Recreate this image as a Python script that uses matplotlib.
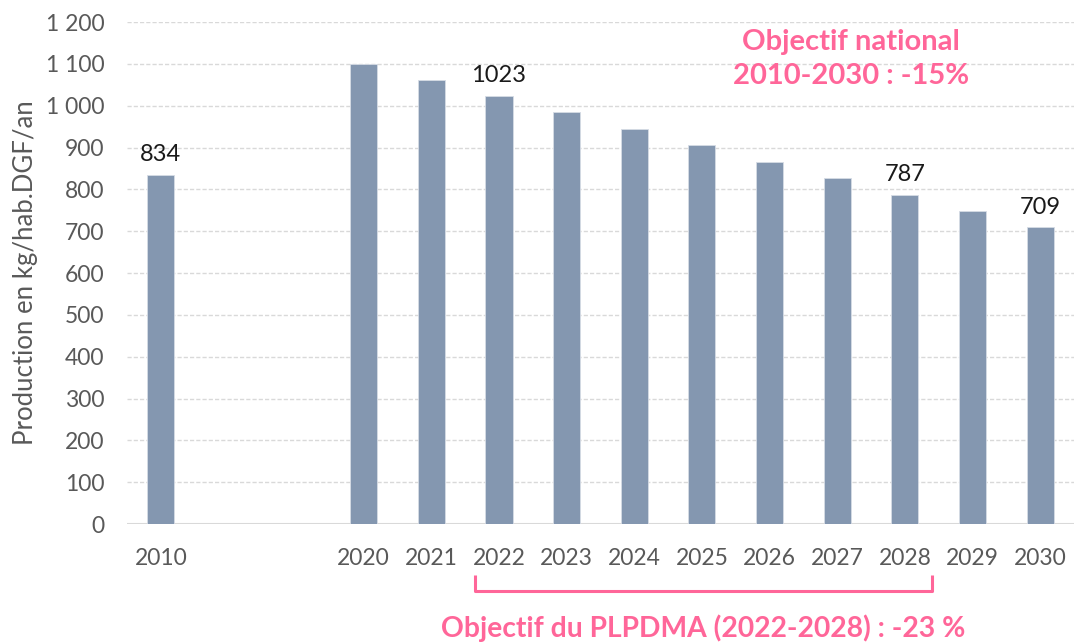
import matplotlib
matplotlib.use("Agg")
import matplotlib.pyplot as plt
import numpy as np

categories = ["2010", "", "", "2020", "2021", "2022", "2023", "2024", "2025",
              "2026", "2027", "2028", "2029", "2030"]
values = [834, None, None, 1100, 1062, 1023, 984, 945, 906, 866, 826, 787, 748, 709]
labelled = {"2010": "834", "2022": "1023", "2028": "787", "2030": "709"}
yticks = [0, 100, 200, 300, 400, 500, 600, 700, 800, 900, 1000, 1100, 1200]
ytick_labels = ["0", "100", "200", "300", "400", "500", "600", "700", "800",
                "900", "1 000", "1 100", "1 200"]

plt.rcParams['font.family'] = ['Lato', 'DejaVu Sans']
fig = plt.figure(figsize=(10.74, 6.42), dpi=100)
ax = fig.add_axes([0.1182, 0.1838, 0.8818, 0.7819])

x = np.arange(len(categories))
pink = "#FF6699"
for xi, cat, v in zip(x, categories, values):
    if v is None:
        continue
    ax.bar(xi, v, width=0.4, color="#8497B0", edgecolor="#d6dce5", linewidth=0.6, zorder=3)
    if cat in labelled:
        ax.annotate(labelled[cat], (xi, v), xytext=(0, 7), textcoords="offset points",
                    ha="center", va="bottom", fontsize=17, color="#1a1a1a")

ax.set_xlim(-0.5, len(categories) - 0.5)
ax.set_ylim(0, 1200)
ax.set_yticks(yticks)
ax.set_yticklabels(ytick_labels)
ax.set_xticks(x)
ax.set_xticklabels(categories)
ax.tick_params(axis="both", length=0, labelsize=16.5, colors="#595959")
ax.tick_params(axis="x", pad=17)
ax.tick_params(axis="y", pad=16)
for s in ax.spines.values():
    s.set_visible(False)
ax.axhline(0, color="#d9d9d9", linewidth=1.5, zorder=2)
ax.yaxis.grid(True, color="#d9d9d9", linestyle=(0, (3, 1.5)), linewidth=1.0, zorder=0)
ax.set_axisbelow(True)
ax.set_ylabel("Production en kg/hab.DGF/an", fontsize=18.5, color="#595959", labelpad=6)

# national objective text
fig.text(851 / 1074, 1 - 59 / 642, "Objectif national\n2010-2030 : -15%",
         ha="center", va="center", fontsize=21, fontweight="bold", color=pink, linespacing=1.4)

# PLPDMA bracket
i22 = categories.index("2022")
i28 = categories.index("2028")
trans = matplotlib.transforms.blended_transform_factory(ax.transData, fig.transFigure)
ax.plot([i22 - 0.35, i22 - 0.35, i28 + 0.4, i28 + 0.4],
        [1 - 575 / 642, 1 - 591 / 642, 1 - 591 / 642, 1 - 575 / 642],
        transform=trans, color=pink, linewidth=2.2, clip_on=False, solid_capstyle="butt")
fig.text(703 / 1074, 1 - 628 / 642, "Objectif du PLPDMA (2022-2028) : -23 %",
         ha="center", va="center", fontsize=20.3, fontweight="bold", color=pink)

fig.savefig("out.png", dpi=100)
